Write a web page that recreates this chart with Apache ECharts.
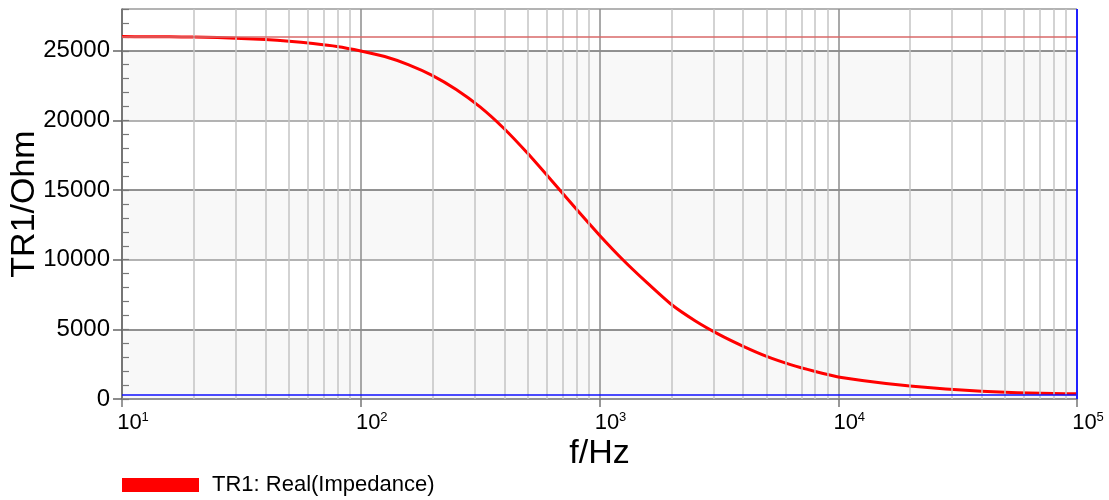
<!DOCTYPE html>
<html>
<head>
<meta charset="utf-8">
<script src="https://cdn.jsdelivr.net/npm/echarts@6/dist/echarts.min.js"></script>
<style>
html,body{margin:0;padding:0;background:#fff;}
#chart{width:1109px;height:500px;}
</style>
</head>
<body>
<div id="chart"></div>
<script>
// ---- data ----
const freqHz = [10, 12.6, 15.8, 20, 25.1, 31.6, 39.8, 50.1, 63.1, 79.4,
  100, 126, 158, 200, 251, 316, 398, 501, 631, 794,
  1000, 1259, 1585, 1995, 2512, 3162, 3981, 5012, 6310, 7943,
  10000, 12589, 15849, 19953, 25119, 31623, 39811, 50119, 63096, 79433, 100000];
const realOhm = [26020, 26010, 26000, 25985, 25950, 25890, 25810, 25690, 25520, 25310,
  24990, 24590, 24010, 23220, 22220, 20970, 19420, 17620, 15670, 13690,
  11760, 9960, 8330, 6800, 5620, 4640, 3800, 3060, 2470, 1990,
  1580, 1330, 1120, 940, 790, 660, 560, 480, 430, 395, 370];
const seriesName = 'TR1: Real(Impedance)';
const xName = 'f/Hz';
const yName = 'TR1/Ohm';
const xDecadeExponents = [1, 2, 3, 4, 5];
const minorGridHz = [20, 30, 40, 50, 60, 70, 80, 90,
  200, 300, 400, 500, 600, 700, 800, 900,
  2000, 3000, 4000, 5000, 6000, 7000, 8000, 9000,
  20000, 30000, 40000, 50000, 60000, 70000, 80000, 90000];
const refLineOhm = 25980;     // red horizontal marker
const baseLineOhm = 300;      // blue horizontal marker
const rightMarkerHz = 100000; // blue vertical marker
const yMin = 0, yMax = 28000, yMajor = 5000, yMinor = 1000;
const xMin = 10, xMax = 100000;

const FONT = 'Liberation Sans, Arial, Helvetica, sans-serif';
const chart = echarts.init(document.getElementById('chart'));

const curve = freqHz.map((f, i) => [f, realOhm[i]]);

const option = {
  animation: false,
  textStyle: { fontFamily: FONT },
  grid: { left: 122, right: 32, top: 9, bottom: 101, containLabel: false, outerBoundsMode: 'none' },
  legend: {
    data: [seriesName],
    left: 122, top: 474, padding: 0,
    icon: 'rect',
    itemWidth: 77, itemHeight: 14,
    textStyle: { fontSize: 22, color: '#000', fontFamily: FONT, padding: [0, 0, 0, 8] }
  },
  xAxis: {
    type: 'log', logBase: 10, min: xMin, max: xMax,
    name: xName, nameLocation: 'middle', nameGap: 38, nameMoveOverlap: false,
    nameTextStyle: { fontSize: 34, color: '#000', fontFamily: FONT },
    axisLine: { show: true, lineStyle: { color: '#888', width: 1.5 } },
    axisTick: { show: true, length: 8, lineStyle: { color: '#777', width: 1.5 } },
    splitLine: { show: true, lineStyle: { color: '#8c8c8c', width: 1.5 } },
    axisLabel: {
      margin: 12,
      align: 'center',
      padding: [0, 0, 0, 22],
      formatter: function (v) {
        const e = Math.round(Math.log10(v));
        if (xDecadeExponents.indexOf(e) < 0) return '';
        return '{b|10}{s|' + e + '}';
      },
      rich: {
        b: { fontSize: 22, color: '#000', fontFamily: FONT, lineHeight: 24 },
        s: { fontSize: 13, color: '#000', fontFamily: FONT, lineHeight: 24, verticalAlign: 'top' }
      }
    }
  },
  yAxis: [{
    type: 'value', min: yMin, max: yMax, interval: yMajor,
    name: yName, nameLocation: 'middle', nameGap: 80, nameMoveOverlap: false,
    nameTextStyle: { fontSize: 34, color: '#000', fontFamily: FONT },
    axisLine: { show: true, lineStyle: { color: '#666', width: 1.5 } },
    axisTick: { show: true, length: 9, lineStyle: { color: '#666', width: 1.5 } },
    axisLabel: { fontSize: 24, color: '#000', margin: 12, showMaxLabel: false, fontFamily: FONT,
      formatter: function (v) { return String(v); } },
    splitLine: { show: true, lineStyle: { color: ['#9a9a9a', '#6e6e6e'], width: 1.5 } },
    splitArea: { show: true, areaStyle: { color: ['#f8f8f8', '#ffffff'] } }
  }, {
    type: 'value', min: yMin, max: yMax, interval: yMinor, position: 'left', offset: 0,
    axisLine: { show: false },
    axisTick: { show: true, inside: true, length: 7, lineStyle: { color: '#777', width: 1.2 } },
    axisLabel: { show: false },
    splitLine: { show: false },
    splitArea: { show: false }
  }],
  series: [{
    name: 'minor-grid',
    type: 'line',
    data: curve,
    z: 1,
    symbol: 'none',
    silent: true,
    lineStyle: { opacity: 0 },
    markLine: {
      silent: true, symbol: ['none', 'none'], animation: false,
      label: { show: false },
      lineStyle: { color: '#c4c4c4', width: 1.5, type: 'solid' },
      data: minorGridHz.map(v => ({ xAxis: v }))
    }
  }, {
    name: seriesName,
    type: 'line',
    data: curve,
    z: 3,
    symbol: 'none',
    smooth: 0.2,
    color: '#ff0000',
    lineStyle: { color: '#ff0000', width: 3, join: 'round' },
    markLine: {
      silent: true, symbol: ['none', 'none'], animation: false,
      label: { show: false },
      data: [
        { yAxis: refLineOhm, lineStyle: { color: '#d86868', width: 1.5, type: 'solid' } },
        { yAxis: baseLineOhm, lineStyle: { color: '#1010ff', width: 1.5, type: 'solid' } },
        { xAxis: rightMarkerHz, lineStyle: { color: '#2020ff', width: 2, type: 'solid' } }
      ]
    }
  }]
};
chart.setOption(option);
</script>
</body>
</html>
